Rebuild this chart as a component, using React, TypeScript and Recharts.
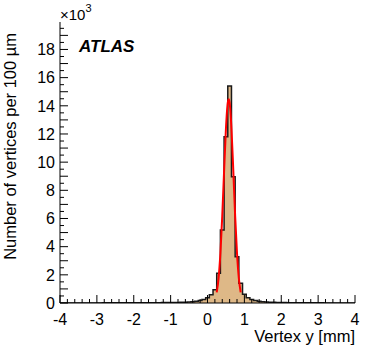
import { ComposedChart, Area, Line, XAxis, YAxis } from 'recharts';

// histogram bins: centres in mm, entries in units of 10^3 per 100 um
const binCenters = [
    -4.0, -3.9, -3.8, -3.7, -3.6, -3.5, -3.4, -3.3, -3.2, -3.1,
    -3.0, -2.9, -2.8, -2.7, -2.6, -2.5, -2.4, -2.3, -2.2, -2.1,
    -2.0, -1.9, -1.8, -1.7, -1.6, -1.5, -1.4, -1.3, -1.2, -1.1,
    -1.0, -0.9, -0.8, -0.7, -0.6, -0.5, -0.4, -0.3, -0.2, -0.1,
    0.0, 0.1, 0.2, 0.3, 0.4, 0.5, 0.6, 0.7, 0.8, 0.9,
    1.0, 1.1, 1.2, 1.3, 1.4, 1.5, 1.6, 1.7, 1.8, 1.9,
    2.0, 2.1, 2.2, 2.3, 2.4, 2.5, 2.6, 2.7, 2.8, 2.9,
    3.0, 3.1, 3.2, 3.3, 3.4, 3.5, 3.6, 3.7, 3.8, 3.9, 4.0,
];
const binCounts = [
    0.005, 0.005, 0.005, 0.005, 0.005, 0.006, 0.006, 0.006, 0.007, 0.007,
    0.008, 0.008, 0.009, 0.009, 0.01, 0.01, 0.011, 0.012, 0.013, 0.014,
    0.015, 0.016, 0.017, 0.018, 0.02, 0.02, 0.022, 0.024, 0.027, 0.03,
    0.033, 0.037, 0.042, 0.05, 0.06, 0.07, 0.09, 0.12, 0.17, 0.25,
    0.37, 0.58, 0.94, 2.12, 5.18, 11.8, 15.4, 8.97, 3.29, 1.41,
    0.62, 0.38, 0.24, 0.17, 0.12, 0.09, 0.07, 0.06, 0.05, 0.04,
    0.035, 0.03, 0.026, 0.022, 0.02, 0.018, 0.016, 0.014, 0.012, 0.011,
    0.01, 0.009, 0.008, 0.008, 0.007, 0.007, 0.006, 0.006, 0.005, 0.005, 0.005,
];

// red fit curve
const fitX = [0.25, 0.3, 0.35, 0.4, 0.45, 0.5, 0.55, 0.575, 0.6, 0.65, 0.7, 0.75, 0.8, 0.85, 0.9];
const fitY = [0.76, 1.75, 3.53, 6.17, 9.37, 12.37, 14.22, 14.47, 14.22, 12.37, 9.37, 6.17, 3.53, 1.75, 0.76];

const xLabels = [-4, -3, -2, -1, 0, 1, 2, 3, 4];
const yLabels = [0, 2, 4, 6, 8, 10, 12, 14, 16, 18];

const histData = binCenters.map((x, i) => ({ x, n: binCounts[i] }));
const fitData = fitX.map((x, i) => ({ x, f: fitY[i] }));

const X_MIN = -4;
const X_MAX = 4;
const Y_MAX = 19.95;

// minor ticks: 5 per unit on x, every 0.5 on y
const xTicks: number[] = [];
for (let i = 0; i <= 40; i++) xTicks.push(+(X_MIN + i * 0.2).toFixed(2));
const yTicks: number[] = [];
for (let i = 0; i <= 39; i++) yTicks.push(i * 0.5);

const FONT = '"Liberation Sans", Arial, Helvetica, sans-serif';
const isMajorX = (v: number) => xLabels.some((m) => Math.abs(m - v) < 1e-6);
const isMajorY = (v: number) => Math.abs(v - Math.round(v)) < 1e-6;

const BottomTick = ({ x, y, payload }: any) => {
    const major = isMajorX(payload.value);
    return (
        <g>
            <line x1={x} x2={x} y1={y} y2={y - (major ? 8 : 4)} stroke="#000" />
            {major && (
                <text x={x} y={y + 22} textAnchor="middle" fontSize={16} fontFamily={FONT} fill="#000">
                    {Math.round(payload.value)}
                </text>
            )}
        </g>
    );
};

const TopTick = ({ x, y, payload }: any) => {
    const major = isMajorX(payload.value);
    return <line x1={x} x2={x} y1={y} y2={y + (major ? 8 : 4)} stroke="#000" />;
};

const LeftTick = ({ x, y, payload }: any) => {
    const v = payload.value;
    const major = isMajorY(v);
    const label = yLabels.includes(v);
    return (
        <g>
            <line x1={x} x2={x + (major ? 8 : 4)} y1={y} y2={y} stroke="#000" />
            {label && (
                <text x={x - 5} y={y} dy="0.36em" textAnchor="end" fontSize={16} fontFamily={FONT} fill="#000">
                    {v}
                </text>
            )}
        </g>
    );
};

const RightTick = ({ x, y, payload }: any) => {
    const major = isMajorY(payload.value);
    return <line x1={x} x2={x - (major ? 8 : 4)} y1={y} y2={y} stroke="#000" />;
};

export default function App() {
    return (
        <div style={{ position: 'absolute', left: 0, top: 0, width: 374, height: 358, background: '#fff' }}>
            <ComposedChart width={374} height={358} margin={{ top: 22, right: 19, bottom: 0, left: 0 }}>
                <XAxis
                    xAxisId={0}
                    type="number"
                    dataKey="x"
                    domain={[X_MIN, X_MAX]}
                    ticks={xTicks}
                    interval={0}
                    height={55}
                    tickSize={0}
                    tickMargin={0}
                    tick={<BottomTick />}
                    axisLine={{ stroke: '#000' }}
                    allowDataOverflow
                />
                <XAxis
                    xAxisId="top"
                    orientation="top"
                    type="number"
                    dataKey="x"
                    domain={[X_MIN, X_MAX]}
                    ticks={xTicks}
                    interval={0}
                    height={0}
                    tickSize={0}
                    tickMargin={0}
                    tick={<TopTick />}
                    axisLine={{ stroke: '#000' }}
                    allowDataOverflow
                />
                <YAxis
                    yAxisId={0}
                    type="number"
                    domain={[0, Y_MAX]}
                    ticks={yTicks}
                    interval={0}
                    width={60}
                    tickSize={0}
                    tickMargin={0}
                    tick={<LeftTick />}
                    axisLine={{ stroke: '#000' }}
                    allowDataOverflow
                />
                <YAxis
                    yAxisId="right"
                    orientation="right"
                    type="number"
                    domain={[0, Y_MAX]}
                    ticks={yTicks}
                    interval={0}
                    width={0}
                    tickSize={0}
                    tickMargin={0}
                    tick={<RightTick />}
                    axisLine={{ stroke: '#000' }}
                    allowDataOverflow
                />
                <Area
                    data={histData}
                    dataKey="n"
                    type="step"
                    xAxisId={0}
                    yAxisId={0}
                    stroke="#1a1a1a"
                    strokeWidth={1.5}
                    fill="#deb887"
                    fillOpacity={1}
                    dot={false}
                    activeDot={false}
                    isAnimationActive={false}
                />
                <Line
                    data={fitData}
                    dataKey="f"
                    type="monotone"
                    xAxisId={0}
                    yAxisId={0}
                    stroke="#ff0000"
                    strokeWidth={2}
                    dot={false}
                    activeDot={false}
                    isAnimationActive={false}
                />
            </ComposedChart>
            <svg
                width={374}
                height={358}
                style={{ position: 'absolute', left: 0, top: 0, pointerEvents: 'none' }}
                fontFamily={FONT}
            >
                <text x={60} y={20} fontSize={15} fill="#000">
                    ×10<tspan dy={-8} fontSize={11}>3</tspan>
                </text>
                <text x={79} y={52} fontSize={17} fontWeight="bold" fontStyle="italic" fill="#000">
                    ATLAS
                </text>
                <text transform="translate(16,33) rotate(-90)" textAnchor="end" fontSize={16.5} fill="#000">
                    Number of vertices per 100 µm
                </text>
                <text x={355} y={342} textAnchor="end" fontSize={16.5} fill="#000">
                    Vertex y [mm]
                </text>
            </svg>
        </div>
    );
}
